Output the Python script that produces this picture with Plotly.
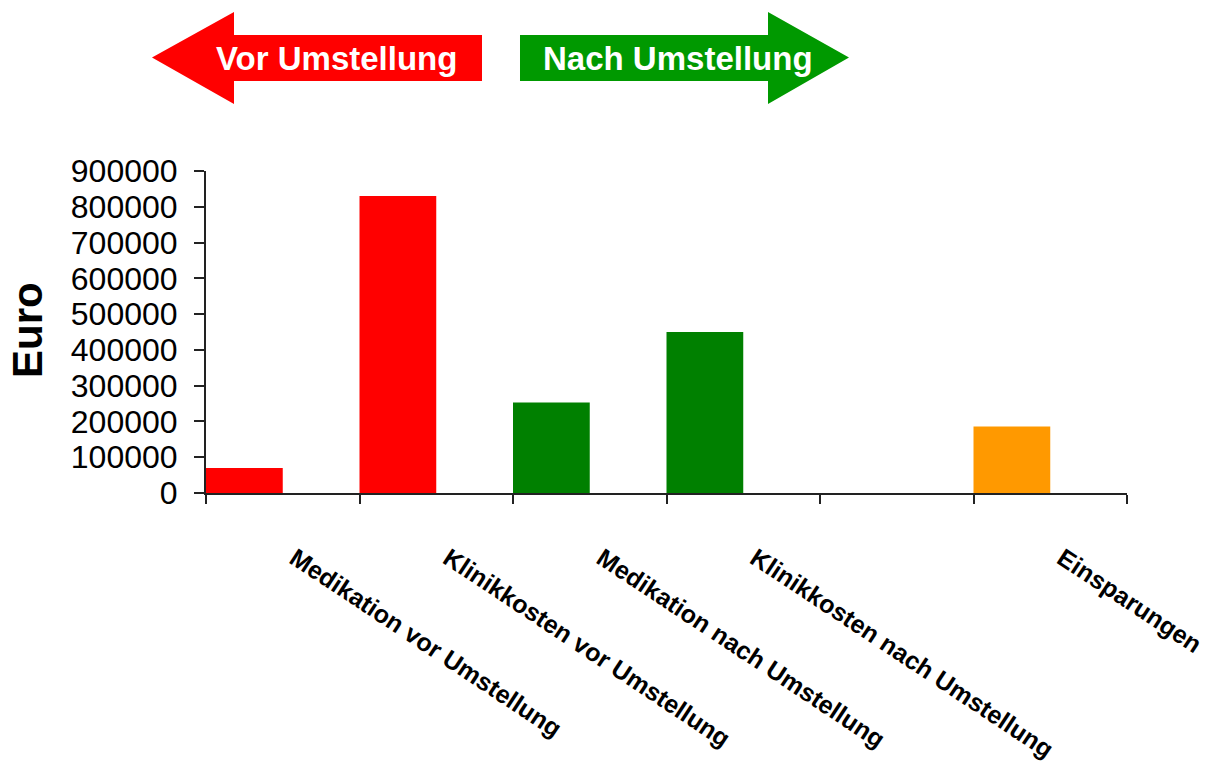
import plotly.graph_objects as go

# Cost comparison before and after the changeover
categories = [
    "Medikation vor Umstellung",
    "Klinikkosten vor Umstellung",
    "Medikation nach Umstellung",
    "Klinikkosten nach Umstellung",
    " ",
    "Einsparungen",
]
values = [70000, 830000, 253000, 450000, None, 186000]
bar_colors = ["#FF0000", "#FF0000", "#008000", "#008000", "#FFFFFF", "#FF9900"]
y_ticks = [0, 100000, 200000, 300000, 400000, 500000, 600000, 700000, 800000, 900000]

W, H = 1209, 763
M_L, M_R, M_T, M_B = 206, 82, 171, 270
PW, PH = W - M_L - M_R, H - M_T - M_B


def px(x, y):
    """Convert page pixel position to paper coordinates."""
    return (x - M_L) / PW, (H - M_B - y) / PH


def path(points):
    pts = [px(x, y) for x, y in points]
    return "M " + " L ".join(f"{a:.5f},{b:.5f}" for a, b in pts) + " Z"


fig = go.Figure(
    go.Bar(
        x=categories,
        y=values,
        marker=dict(color=bar_colors, line=dict(width=0)),
        width=0.5,
        offset=-0.5,
        hoverinfo="x+y",
    )
)

font_family = "Liberation Sans, Arial, sans-serif"

# Direction arrows above the chart
red_arrow = [(152, 57.5), (234, 12), (234, 35), (482, 35), (482, 81), (234, 81), (234, 104)]
green_arrow = [(520, 35), (768, 35), (768, 12), (849, 57.5), (768, 104), (768, 81), (520, 81)]
shapes = [
    dict(type="path", xref="paper", yref="paper", path=path(red_arrow),
         fillcolor="#FF0000", line=dict(width=0), layer="above"),
    dict(type="path", xref="paper", yref="paper", path=path(green_arrow),
         fillcolor="#009900", line=dict(width=0), layer="above"),
]

annotations = []
for text, cx in [("Vor Umstellung", 336), ("Nach Umstellung", 678)]:
    ax, ay = px(cx, 58)
    annotations.append(dict(
        text=f"<b>{text}</b>", x=ax, y=ay, xref="paper", yref="paper",
        xanchor="center", yanchor="middle", showarrow=False,
        font=dict(family=font_family, size=33, color="white"),
    ))

ex, ey = px(27, 330)
annotations.append(dict(
    text="<b>Euro</b>", x=ex, y=ey, xref="paper", yref="paper",
    xanchor="center", yanchor="middle", showarrow=False, textangle=-90,
    font=dict(family=font_family, size=42, color="black"),
))

fig.update_layout(
    width=W, height=H,
    margin=dict(l=M_L, r=M_R, t=M_T, b=M_B, autoexpand=False),
    paper_bgcolor="white", plot_bgcolor="white",
    showlegend=False,
    shapes=shapes,
    annotations=annotations,
    font=dict(family=font_family, color="black"),
)

fig.update_xaxes(
    type="category",
    categoryorder="array", categoryarray=categories,
    range=[-0.5, 5.5],
    showline=True, linecolor="#222222", linewidth=2,
    ticks="outside", tickson="boundaries", ticklen=9, tickwidth=2, tickcolor="#222222",
    tickangle=33.5,
    tickfont=dict(family=font_family, size=25, color="black", weight="bold"),
    ticklabelstandoff=39,
    ticklabelshift=12,
    showgrid=False, zeroline=False, automargin=False,
)

fig.update_yaxes(
    range=[0, 900000],
    tickvals=y_ticks, tickformat="d",
    showline=True, linecolor="#222222", linewidth=2,
    ticks="outside", ticklen=10, tickwidth=2, tickcolor="#222222",
    tickfont=dict(family=font_family, size=32, color="black"),
    ticklabelstandoff=10,
    showgrid=False, zeroline=False, automargin=False,
)

fig.write_html("out.html")
